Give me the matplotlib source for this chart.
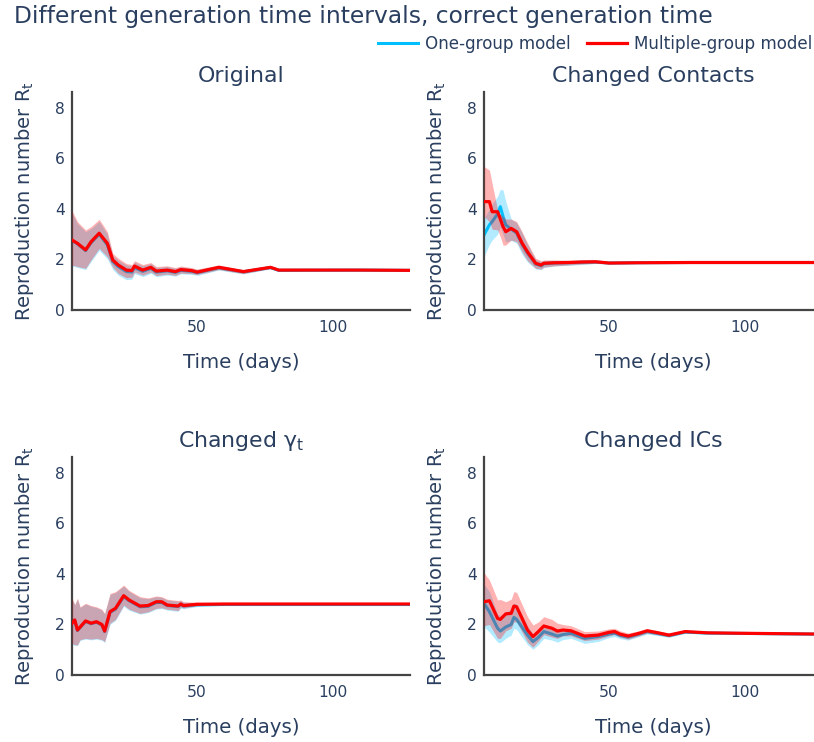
import matplotlib
matplotlib.use("Agg")
import matplotlib.pyplot as plt
from matplotlib.lines import Line2D

plt.rcParams['font.family'] = ['DejaVu Sans']

TEXT = '#2a3f5f'
BLUE = '#00BFFF'
RED = '#FF0000'

# ---------------- data ----------------
panel_titles = ['Original', 'Changed Contacts', r'Changed γ$_\mathregular{t}$', 'Changed ICs']
series_names = ['One-group model', 'Multiple-group model']
x_ticks = [50, 100]
y_ticks = [0, 2, 4, 6, 8]

# Original
days_orig = [4, 6, 9, 11, 14, 17, 19, 21, 24, 26, 27, 30, 33, 35, 39, 42, 44, 48, 50, 58, 67, 77, 80, 90, 110, 128]
multi_orig = [2.77, 2.64, 2.38, 2.70, 3.04, 2.64, 1.98, 1.78, 1.58, 1.56, 1.74, 1.58, 1.69, 1.54, 1.58, 1.52, 1.60, 1.56, 1.50, 1.69, 1.52, 1.69, 1.58, 1.58, 1.58, 1.57]
multi_orig_hi = [3.93, 3.50, 3.17, 3.30, 3.59, 3.10, 2.24, 2.05, 1.84, 1.80, 1.95, 1.80, 1.88, 1.72, 1.75, 1.68, 1.74, 1.68, 1.62, 1.78, 1.60, 1.74, 1.62, 1.60, 1.59, 1.58]
multi_orig_lo = [1.78, 1.72, 1.65, 1.98, 2.44, 2.10, 1.69, 1.45, 1.28, 1.30, 1.50, 1.38, 1.50, 1.36, 1.42, 1.37, 1.46, 1.44, 1.40, 1.60, 1.44, 1.64, 1.54, 1.56, 1.57, 1.56]
one_orig = [2.75, 2.62, 2.35, 2.66, 3.00, 2.58, 1.92, 1.72, 1.52, 1.50, 1.68, 1.53, 1.65, 1.50, 1.55, 1.49, 1.57, 1.53, 1.48, 1.67, 1.51, 1.68, 1.57, 1.575, 1.578, 1.568]
one_orig_hi = [3.85, 3.42, 3.10, 3.22, 3.50, 3.00, 2.15, 1.98, 1.78, 1.74, 1.90, 1.75, 1.84, 1.68, 1.72, 1.65, 1.71, 1.65, 1.60, 1.76, 1.59, 1.73, 1.61, 1.595, 1.588, 1.576]
one_orig_lo = [1.74, 1.68, 1.60, 1.92, 2.36, 2.02, 1.60, 1.38, 1.20, 1.22, 1.44, 1.32, 1.45, 1.32, 1.38, 1.34, 1.43, 1.41, 1.37, 1.58, 1.43, 1.63, 1.53, 1.555, 1.568, 1.56]

# Changed contacts
days_cont = [4, 6, 7, 9, 10, 11, 12, 14, 16, 18, 20, 23, 25, 26, 30, 35, 40, 45, 50, 60, 80, 100, 128]
multi_cont = [4.29, 4.29, 3.89, 3.89, 3.60, 3.30, 3.10, 3.23, 3.10, 2.65, 2.30, 1.85, 1.78, 1.85, 1.87, 1.88, 1.90, 1.91, 1.86, 1.87, 1.88, 1.88, 1.88]
multi_cont_hi = [5.68, 5.54, 5.00, 3.96, 3.80, 3.70, 3.60, 3.60, 3.50, 3.10, 2.65, 2.05, 1.95, 1.98, 1.98, 1.97, 1.98, 1.97, 1.90, 1.90, 1.90, 1.89, 1.89]
multi_cont_lo = [3.70, 3.50, 3.20, 3.17, 2.90, 2.57, 2.57, 2.77, 2.70, 2.30, 1.95, 1.65, 1.62, 1.70, 1.75, 1.78, 1.82, 1.85, 1.82, 1.84, 1.86, 1.87, 1.87]
one_cont = [2.97, 3.37, 3.50, 3.80, 4.09, 3.70, 3.37, 3.20, 3.05, 2.60, 2.25, 1.82, 1.75, 1.83, 1.86, 1.87, 1.89, 1.90, 1.86, 1.87, 1.88, 1.88, 1.88]
one_cont_hi = [3.63, 4.00, 4.20, 4.50, 4.78, 4.75, 4.30, 3.60, 3.45, 3.05, 2.60, 2.00, 1.92, 1.96, 1.97, 1.96, 1.97, 1.96, 1.90, 1.90, 1.90, 1.89, 1.89]
one_cont_lo = [2.11, 2.60, 2.77, 3.00, 3.30, 3.00, 2.70, 2.75, 2.65, 2.20, 1.90, 1.62, 1.60, 1.68, 1.74, 1.77, 1.80, 1.84, 1.82, 1.84, 1.86, 1.87, 1.87]

# Changed gamma_t
days_gam = [4, 5, 6, 7, 9, 11, 13, 15, 16, 18, 20, 23, 25, 29, 32, 35, 37, 39, 43, 44, 45, 50, 60, 80, 100, 128]
multi_gam = [2.05, 2.18, 1.78, 1.90, 2.14, 2.05, 2.11, 2.00, 1.74, 2.51, 2.64, 3.14, 2.97, 2.73, 2.75, 2.90, 2.90, 2.77, 2.73, 2.81, 2.75, 2.80, 2.81, 2.81, 2.81, 2.81]
multi_gam_hi = [3.04, 2.80, 3.04, 2.70, 2.84, 2.75, 2.70, 2.60, 2.44, 3.23, 3.30, 3.56, 3.35, 3.10, 3.05, 3.13, 3.10, 3.00, 2.95, 2.97, 2.90, 2.88, 2.84, 2.82, 2.82, 2.82]
multi_gam_lo = [1.25, 1.20, 1.19, 1.40, 1.45, 1.42, 1.45, 1.40, 1.32, 2.05, 2.20, 2.77, 2.60, 2.44, 2.50, 2.64, 2.66, 2.60, 2.55, 2.68, 2.65, 2.74, 2.78, 2.80, 2.80, 2.80]
one_gam = [2.03, 2.16, 1.76, 1.88, 2.12, 2.03, 2.09, 1.98, 1.72, 2.48, 2.61, 3.10, 2.94, 2.70, 2.72, 2.87, 2.87, 2.75, 2.71, 2.79, 2.73, 2.78, 2.79, 2.79, 2.79, 2.79]
one_gam_hi = [3.00, 2.77, 3.00, 2.67, 2.81, 2.72, 2.67, 2.57, 2.41, 3.19, 3.26, 3.52, 3.31, 3.06, 3.02, 3.10, 3.07, 2.97, 2.92, 2.94, 2.88, 2.86, 2.82, 2.80, 2.80, 2.80]
one_gam_lo = [1.22, 1.17, 1.16, 1.37, 1.42, 1.39, 1.42, 1.37, 1.29, 2.01, 2.16, 2.72, 2.56, 2.41, 2.47, 2.61, 2.63, 2.57, 2.52, 2.65, 2.62, 2.71, 2.76, 2.78, 2.78, 2.78]

# Changed initial conditions
days_ics = [4, 6, 9, 10, 12, 14, 15, 16, 20, 22, 24, 26, 29, 31, 33, 36, 41, 46, 50, 52, 54, 57, 61, 64, 68, 72, 78, 86, 100, 128]
multi_ics = [2.90, 2.94, 2.24, 2.20, 2.42, 2.44, 2.73, 2.70, 1.78, 1.52, 1.72, 1.94, 1.85, 1.74, 1.78, 1.75, 1.54, 1.58, 1.69, 1.72, 1.62, 1.54, 1.65, 1.75, 1.67, 1.58, 1.72, 1.67, 1.65, 1.62]
multi_ics_hi = [4.05, 3.76, 2.97, 2.99, 2.90, 3.00, 3.30, 3.27, 2.31, 1.98, 2.10, 2.31, 2.20, 2.05, 2.00, 1.95, 1.72, 1.74, 1.83, 1.85, 1.75, 1.66, 1.75, 1.84, 1.75, 1.65, 1.77, 1.70, 1.67, 1.63]
multi_ics_lo = [1.95, 2.00, 1.45, 1.45, 1.75, 1.85, 2.10, 2.10, 1.30, 1.10, 1.35, 1.60, 1.50, 1.45, 1.55, 1.55, 1.36, 1.42, 1.55, 1.60, 1.50, 1.42, 1.55, 1.66, 1.59, 1.51, 1.67, 1.64, 1.63, 1.61]
one_ics = [2.84, 2.50, 1.85, 1.74, 1.90, 2.00, 2.28, 2.20, 1.58, 1.32, 1.49, 1.72, 1.62, 1.54, 1.60, 1.65, 1.45, 1.52, 1.62, 1.66, 1.57, 1.50, 1.62, 1.72, 1.64, 1.56, 1.70, 1.66, 1.645, 1.615]
one_ics_hi = [3.60, 3.30, 2.40, 2.35, 2.50, 2.60, 2.85, 2.80, 1.95, 1.62, 1.78, 2.00, 1.88, 1.78, 1.80, 1.80, 1.60, 1.65, 1.75, 1.78, 1.68, 1.60, 1.70, 1.80, 1.72, 1.62, 1.74, 1.69, 1.66, 1.625]
one_ics_lo = [1.91, 1.70, 1.30, 1.28, 1.45, 1.58, 1.85, 1.80, 1.20, 1.02, 1.20, 1.45, 1.38, 1.30, 1.40, 1.45, 1.25, 1.33, 1.48, 1.52, 1.44, 1.38, 1.52, 1.62, 1.56, 1.49, 1.65, 1.62, 1.625, 1.60]

panels = [
    (days_orig, (one_orig, one_orig_lo, one_orig_hi), (multi_orig, multi_orig_lo, multi_orig_hi)),
    (days_cont, (one_cont, one_cont_lo, one_cont_hi), (multi_cont, multi_cont_lo, multi_cont_hi)),
    (days_gam, (one_gam, one_gam_lo, one_gam_hi), (multi_gam, multi_gam_lo, multi_gam_hi)),
    (days_ics, (one_ics, one_ics_lo, one_ics_hi), (multi_ics, multi_ics_lo, multi_ics_hi)),
]

# ---------------- figure ----------------
W, H = 814, 742
fig = plt.figure(figsize=(W / 100, H / 100), dpi=100)

# axes boxes in pixels: left, top, right, bottom
boxes = [(72, 92, 410, 310), (484, 92, 822, 310),
         (72, 457, 410, 675), (484, 457, 822, 675)]

for (l, t, r, b), title, (days, one, multi) in zip(boxes, panel_titles, panels):
    ax = fig.add_axes([l / W, 1 - b / H, (r - l) / W, (b - t) / H])
    ax.fill_between(days, one[1], one[2], color=BLUE, alpha=0.3, lw=0, zorder=1)
    ax.plot(days, one[0], color=BLUE, lw=2.2, zorder=2)
    ax.fill_between(days, multi[1], multi[2], color=RED, alpha=0.3, lw=0, zorder=3)
    ax.plot(days, multi[0], color=RED, lw=2.3, zorder=4)

    ax.set_xlim(4, 128.3)
    ax.set_ylim(0, 8.63)
    ax.set_xticks(x_ticks)
    ax.set_yticks(y_ticks)
    ax.tick_params(length=0, labelsize=11.2, colors=TEXT)
    ax.tick_params(axis='x', pad=7)
    ax.tick_params(axis='y', pad=5)
    for s in ('top', 'right'):
        ax.spines[s].set_visible(False)
    for s in ('left', 'bottom'):
        ax.spines[s].set_color('#444444')
        ax.spines[s].set_linewidth(1.6)

    ax.set_xlabel('Time (days)', fontsize=14.2, color=TEXT)
    ax.xaxis.label.set_va('center')
    ax.xaxis.set_label_coords(0.5, -0.239)
    ax.set_ylabel(r'Reproduction number R$_\mathregular{t}$', fontsize=14, color=TEXT)
    ax.yaxis.label.set_va('center')
    ax.yaxis.set_label_coords(-0.142, 0.5)

    ax.text(0.5, 1.073, title, transform=ax.transAxes, ha='center', va='center',
            fontsize=15.8, color=TEXT)

fig.text(14 / W, 1 - 16 / H, 'Different generation time intervals, correct generation time',
         ha='left', va='center', fontsize=16.8, color=TEXT)

handles = [Line2D([], [], color=BLUE, lw=2.2), Line2D([], [], color=RED, lw=2.3)]
fig.legend(handles, series_names, loc='center right', bbox_to_anchor=(812 / W, 1 - 44 / H),
           ncol=2, frameon=False, handlelength=2.4, handletextpad=0.4, columnspacing=0.95,
           borderaxespad=0, borderpad=0, fontsize=12.1, labelcolor=TEXT)

fig.savefig('out.png', dpi=100)
